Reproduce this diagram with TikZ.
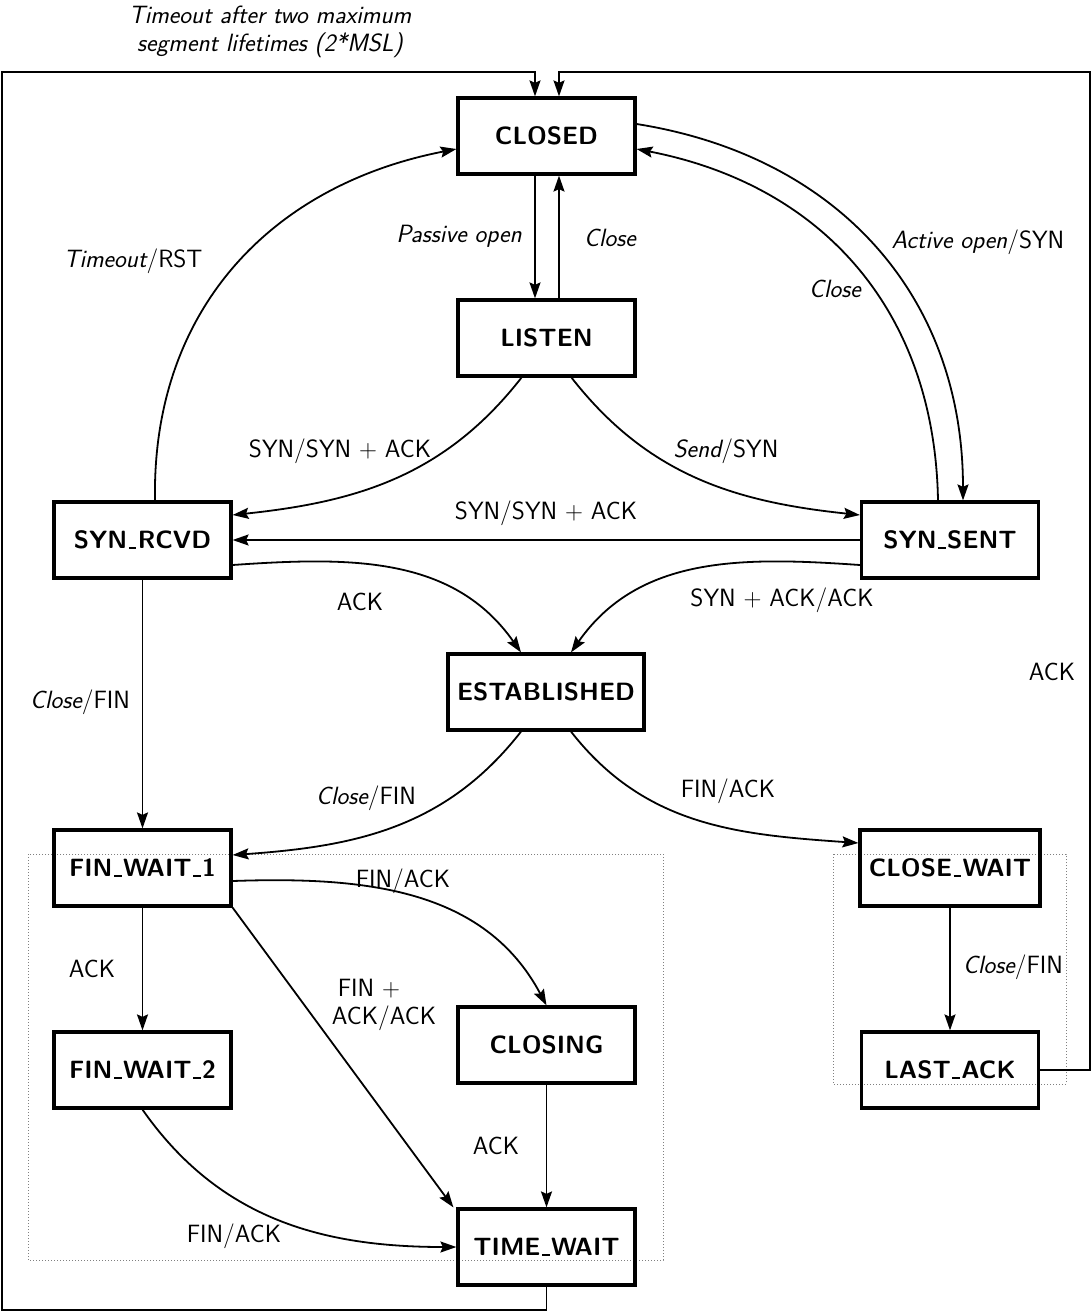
\documentclass[tikz,border=0pt]{standalone}
\usepackage{fontspec}
\usetikzlibrary{arrows.meta}
\newcommand\usc{\leavevmode\kern.06em\vbox{\hrule width.3em height .07em}\kern.06em}
\begin{document}
\begin{tikzpicture}[x=1pt,y=1pt,
  st/.style={draw, line width=3.2pt, minimum width=177pt, minimum height=76pt, inner xsep=3pt,
    font=\fontsize{25}{30}\selectfont\sffamily\bfseries},
  arr/.style={line width=1.8pt, -{Stealth[length=16pt,width=11pt,inset=2.5pt]}},
  lbl/.style={font=\fontsize{25}{28}\selectfont\sffamily, inner sep=0pt},
  dotbox/.style={draw=gray, dotted, line width=1pt}]
\useasboundingbox[fill=white] (0,0) rectangle (1092,-1312);

% dotted groups
\draw[dotbox] (28,-854) rectangle (663,-1260);
\draw[dotbox] (833,-854) rectangle (1066,-1084);

% states
\node[st] (C)  at (546.5,-136) {CLOSED};
\node[st] (L)  at (546.5,-338) {LISTEN};
\node[st] (R)  at (142.5,-540) {SYN\usc RCVD};
\node[st] (S)  at (950,-540) {SYN\usc SENT};
\node[st, minimum width=196pt] (E) at (546,-692) {ESTABLISHED};
\node[st] (F1) at (142.5,-868) {FIN\usc WAIT\usc 1};
\node[st, minimum width=180pt] (CW) at (950,-868) {CLOSE\usc WAIT};
\node[st] (F2) at (142.5,-1070) {FIN\usc WAIT\usc 2};
\node[st] (CL) at (546.5,-1045) {CLOSING};
\node[st] (LA) at (950,-1070) {LAST\usc ACK};
\node[st] (TW) at (546.5,-1247) {TIME\usc WAIT};

% corner coordinates of outer loops
\coordinate (o1) at (2,-1310);
\coordinate (o2) at (2,-72);
\coordinate (o3) at (1090,-1070);
\coordinate (o4) at (1090,-72);

% outer loops
\draw[arr] (TW.south) |- (o1) -- (o2) -| ([xshift=-11.5pt]C.north);
\draw[arr] (LA.east) -- (o3) -- (o4) -| ([xshift=12.5pt]C.north);

% CLOSED <-> LISTEN
\draw[arr] ([xshift=-11.5pt]C.south) -- ([xshift=-11.5pt]L.north);
\draw[arr] ([xshift=12.5pt]L.north) -- ([xshift=12.5pt]C.south);

% LISTEN -> SYN_RCVD / SYN_SENT
\draw[arr] ([xshift=-25pt]L.south) to[out=-128, in=6] ([yshift=25pt]R.east);
\draw[arr] ([xshift=25pt]L.south) to[out=-52, in=174] ([yshift=25pt]S.west);

% SYN_SENT -> SYN_RCVD
\draw[arr] (S.west) -- (R.east);

% to ESTABLISHED
\draw[arr] ([yshift=-25pt]R.east) to[out=4, in=125] ([xshift=-25pt]E.north);
\draw[arr] ([yshift=-25pt]S.west) to[out=176, in=55] ([xshift=25pt]E.north);

% arcs to/from CLOSED
\draw[arr] ([xshift=12.5pt]R.north) to[out=91, in=-169, looseness=1.05] ([yshift=-13pt]C.west);
\draw[arr] ([yshift=12pt]C.east) to[out=-9, in=90, looseness=1.05] ([xshift=13pt]S.north);
\draw[arr] ([xshift=-12pt]S.north) to[out=91, in=-11, looseness=1.05] ([yshift=-13pt]C.east);

% closing transitions
\draw[arr] (R.south) -- (F1.north);
\draw[arr] ([xshift=-25pt]E.south) to[out=-128, in=4] ([yshift=13pt]F1.east);
\draw[arr] ([xshift=25pt]E.south) to[out=-52, in=176] ([yshift=25pt]CW.west);
\draw[arr] (F1.south) -- (F2.north);
\draw[arr] ([yshift=-13pt]F1.east) to[out=2, in=118] (CL.north);
\draw[arr] (F1.south east) -- ([xshift=-3pt]TW.north west);
\draw[arr] (CL.south) -- (TW.north);
\draw[arr] (F2.south) to[out=-55, in=180] (TW.west);
\draw[arr] (CW.south) -- (LA.north);

% labels
\node[lbl, align=center, font=\fontsize{25}{28}\selectfont\sffamily\itshape] (t0) at (270,-32)
  {Timeout after two maximum\\segment lifetimes (2*MSL)};
\node[lbl] (t1) at (459,-236) {\itshape Passive open};
\node[lbl] (t2) at (610,-238) {\itshape Close};
\node[lbl] (t3) at (133,-261) {{\itshape Timeout}/RST};
\node[lbl] (t4) at (978,-242) {{\itshape Active open}/SYN};
\node[lbl] (t5) at (835,-289) {\itshape Close};
\node[lbl] (t6) at (340,-451) {SYN/SYN $+$ ACK};
\node[lbl] (t7) at (726,-451) {{\itshape Send}/SYN};
\node[lbl] (t8) at (546,-513) {SYN/SYN $+$ ACK};
\node[lbl] (t9) at (360,-602) {ACK};
\node[lbl] (t10) at (782,-600) {SYN $+$ ACK/ACK};
\node[lbl] (t11) at (1052,-672) {ACK};
\node[lbl] (t12) at (80,-702) {{\itshape Close}/FIN};
\node[lbl] (t13) at (366,-798) {{\itshape Close}/FIN};
\node[lbl] (t14) at (728,-791) {FIN/ACK};
\node[lbl] (t15) at (403,-881) {FIN/ACK};
\node[lbl] (t16) at (92,-969) {ACK};
\node[lbl, align=left] (t17) at (384,-1005) {\hspace*{6pt}FIN $+$\\ACK/ACK};
\node[lbl] (t18) at (496,-1146) {ACK};
\node[lbl] (t19) at (234,-1236) {FIN/ACK};
\node[lbl] (t20) at (1013,-967) {{\itshape Close}/FIN};
\end{tikzpicture}
\end{document}
